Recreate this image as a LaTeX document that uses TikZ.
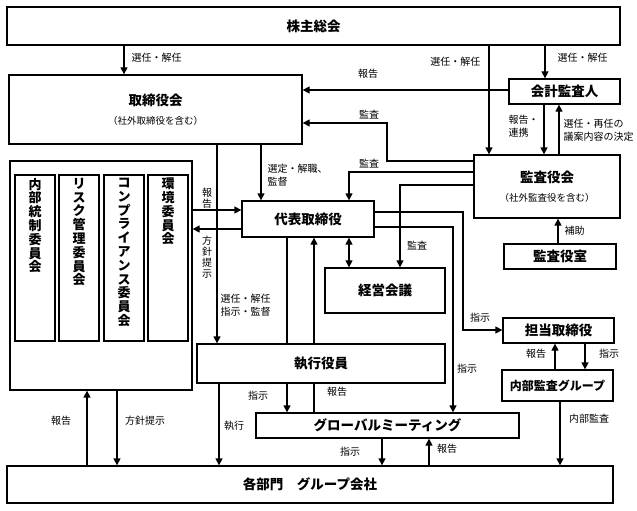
\documentclass[tikz,border=0pt]{standalone}
\usepackage{fontspec}
\setmainfont{Noto Sans CJK JP}
\usetikzlibrary{arrows.meta}
\tikzset{
  box/.style={draw, line width=1.3pt, inner sep=0pt, align=center,
    font=\fontsize{13.5}{16}\selectfont\bfseries},
  cbox/.style={draw, line width=1.3pt, inner sep=3pt, minimum width=40pt,
    font=\fontsize{13}{13.8}\selectfont\bfseries},
  lbl/.style={font=\fontsize{10}{13}\selectfont, inner sep=0.5pt, align=left},
  vlbl/.style={font=\fontsize{10}{11}\selectfont, inner sep=0pt, align=center},
  con/.style={line width=1.3pt},
  arr/.style={con, -{Triangle[length=7pt,width=7pt]}},
  darr/.style={con, {Triangle[length=7pt,width=7pt]}-{Triangle[length=7pt,width=7pt]}},
}
\newcommand{\subt}[1]{{\fontsize{9.5}{16}\selectfont\mdseries #1}}
\newcommand{\vtext}[1]{\parbox[c][160pt][t]{14pt}{\centering\fontsize{13}{13.8}\selectfont #1}}
\begin{document}
\begin{tikzpicture}[x=1pt,y=-1pt]
\useasboundingbox (0,0) rectangle (637,511);
% boxes
\node[box, minimum width=613pt, minimum height=38pt] (kabu) at (313.5,26) {株主総会};
\node[box, minimum width=293pt, minimum height=69pt] (tori) at (155.5,109.5) {取締役会\\[3.5pt]\subt{（社外取締役を含む）}};
\node[box, minimum width=111pt, minimum height=25pt] (kaikei) at (564.5,91.5) {会計監査人};
\node[box, minimum width=146pt, minimum height=63pt] (kansa) at (547,186.5) {監査役会\\[3pt]\subt{（社外監査役を含む）}};
\node[box, minimum width=112pt, minimum height=25pt] (shitsu) at (560,256.5) {監査役室};
\node[box, minimum width=132pt, minimum height=36pt] (daihyo) at (308,219) {代表取締役};
\node[box, minimum width=120pt, minimum height=45pt] (keiei) at (385,290.5) {経営会議};
\node[box, minimum width=111pt, minimum height=25pt] (tanto) at (558.5,330.5) {担当取締役};
\node[box, minimum width=111pt, minimum height=31pt, font=\fontsize{12}{14}\selectfont\bfseries] (naibu) at (557.5,385.5) {内部監査グループ};
\node[box, minimum width=248pt, minimum height=39pt] (shikko) at (321,363.5) {執行役員};
\node[box, minimum width=263pt, minimum height=25pt] (gm) at (387.5,425.5) {グローバルミーティング};
\node[box, minimum width=606pt, minimum height=37pt] (kakubu) at (310,484.5) {各部門\quad グループ会社};
\node[box, minimum width=182pt, minimum height=229pt] (iinkai) at (101,275.5) {};
\node[cbox] (c1) at (35,258) {\vtext{内\\部\\統\\制\\委\\員\\会}};
\node[cbox] (c2) at (79,258) {\vtext{リ\\ス\\ク\\管\\理\\委\\員\\会}};
\node[cbox] (c3) at (124,258) {\vtext{コ\\ン\\プ\\ラ\\イ\\ア\\ン\\ス\\委\\員\\会}};
\node[cbox] (c4) at (168,258) {\vtext{環\\境\\委\\員\\会}};
% connectors
\draw[arr] (kabu.south -| 124,0) -- (tori.north -| 124,0);
\node[lbl, anchor=west] (l1) at (131,58) {選任・解任};
\draw[arr] (kabu.south -| 489,0) -- (kansa.north -| 489,0);
\node[lbl, anchor=east] (l2) at (481,62) {選任・解任};
\draw[arr] (kabu.south -| 545,0) -- (kaikei.north -| 545,0);
\node[lbl, anchor=west] (l3) at (557,58) {選任・解任};
\draw[arr] (kaikei.west |- 0,90) -- (tori.east |- 0,90);
\node[lbl] (l4) at (368,74) {報告};
\draw[arr] (kaikei.south -| 544,0) -- (kansa.north -| 544,0);
\node[lbl, anchor=west] (l5) at (508,126) {報告・\\連携};
\draw[arr] (kansa.north -| 559,0) -- (kaikei.south -| 559,0);
\node[lbl, anchor=west] (l6) at (563,130) {選任・再任の\\議案内容の決定};
\draw[arr] (kansa.west |- 0,161) -- (387,161) -- (387,123) -- (tori.east |- 0,123);
\node[lbl] (l7) at (369,115) {監査};
\draw[arr] (kansa.west |- 0,172) -- (349,172) -- (daihyo.north -| 349,0);
\node[lbl] (l8) at (369,164) {監査};
\draw[arr] (kansa.west |- 0,185) -- (400,185) -- (keiei.north -| 400,0);
\node[lbl] (l9) at (417,246) {監査};
\draw[arr] (shitsu.north -| 558,0) -- (kansa.south -| 558,0);
\node[lbl, anchor=west] (l10) at (564,231) {補助};
\draw[arr] (tori.south -| 261,0) -- (daihyo.north -| 261,0);
\node[lbl, anchor=west] (l11) at (267,175) {選定・解職、\\監督};
\draw[arr] (tori.south -| 217,0) -- (shikko.north -| 217,0);
\node[lbl, anchor=west] (l12) at (220,305) {選任・解任\\指示・監督};
\draw[arr] (iinkai.east |- 0,210) -- (daihyo.west |- 0,210);
\node[vlbl] (l13) at (207,198) {報\\告};
\draw[arr] (daihyo.west |- 0,229) -- (iinkai.east |- 0,229);
\node[vlbl] (l14) at (207,257) {方\\針\\提\\示};
\draw[darr] (daihyo.south -| 349,0) -- (keiei.north -| 349,0);
\draw[arr] (daihyo.east |- 0,212) -- (463,212) -- (463,330) -- (tanto.west |- 0,330);
\node[lbl] (l15) at (480,318) {指示};
\draw[arr] (daihyo.east |- 0,227) -- (453,227) -- (gm.north -| 453,0);
\node[lbl] (l16) at (467,369) {指示};
\draw[con] (daihyo.south -| 287,0) -- (shikko.north -| 287,0);
\draw[arr] (shikko.north -| 314,0) -- (daihyo.south -| 314,0);
\draw[arr] (shikko.south -| 287,0) -- (gm.north -| 287,0);
\node[lbl] (l17) at (258,396) {指示};
\draw[con] (gm.north -| 314,0) -- (shikko.south -| 314,0);
\node[lbl] (l18) at (337,392) {報告};
\draw[arr] (shikko.south -| 219,0) -- (kakubu.north -| 219,0);
\node[lbl] (l19) at (234,426) {執行};
\draw[arr] (gm.south -| 382,0) -- (kakubu.north -| 382,0);
\node[lbl] (l20) at (350,452) {指示};
\draw[arr] (kakubu.north -| 429,0) -- (gm.south -| 429,0);
\node[lbl] (l21) at (447,449) {報告};
\draw[arr] (tanto.south -| 585,0) -- (naibu.north -| 585,0);
\node[lbl] (l22) at (609,354) {指示};
\draw[arr] (naibu.north -| 555,0) -- (tanto.south -| 555,0);
\node[lbl] (l23) at (536,354) {報告};
\draw[arr] (naibu.south -| 560,0) -- (kakubu.north -| 560,0);
\node[lbl] (l24) at (589,419) {内部監査};
\draw[arr] (kakubu.north -| 87,0) -- (iinkai.south -| 87,0);
\node[lbl] (l25) at (61,421) {報告};
\draw[arr] (iinkai.south -| 117,0) -- (kakubu.north -| 117,0);
\node[lbl] (l26) at (145,421) {方針提示};
\end{tikzpicture}
\end{document}
